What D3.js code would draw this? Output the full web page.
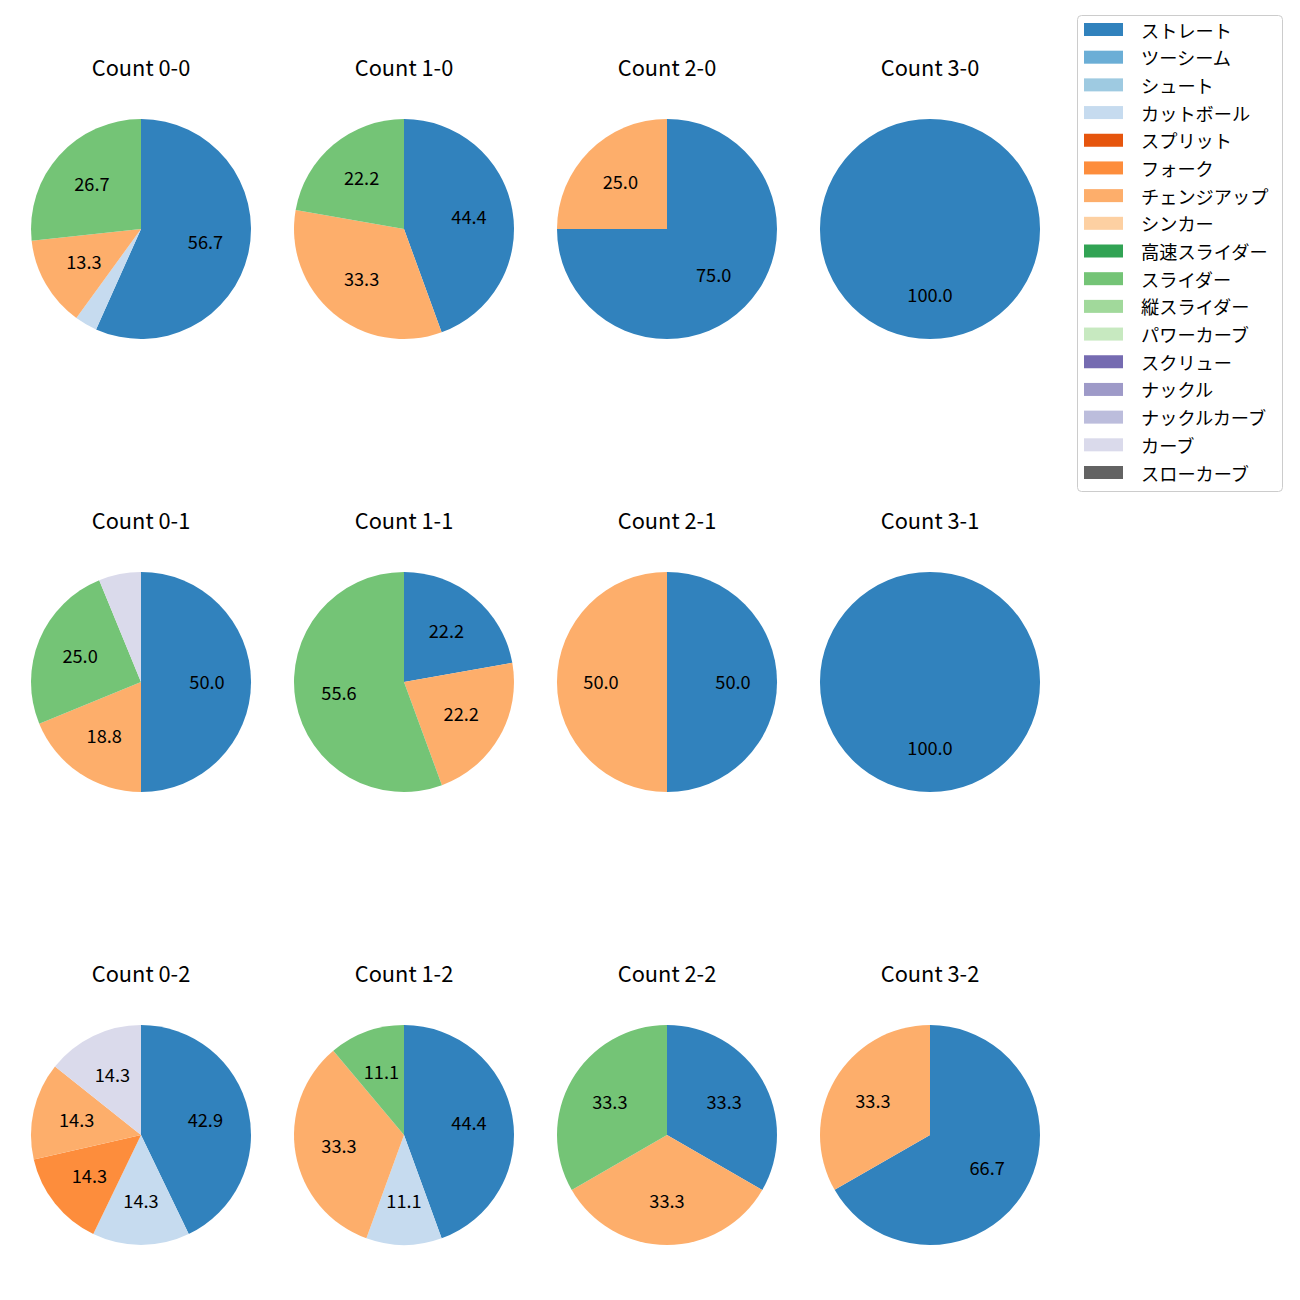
<!DOCTYPE html>
<html>
<head>
<meta charset="utf-8">
<script src="https://cdn.jsdelivr.net/npm/d3@7"></script>
<style>
  html, body { margin: 0; padding: 0; background: #fff; }
  svg { display: block; font-family: "Noto Sans CJK JP", "Noto Sans", sans-serif; }
</style>
</head>
<body>
<svg id="chart" width="1300" height="1300"></svg>
<script>
// Pitch types (legend order) and colours (tab20c)
const pitchTypes = ["ストレート","ツーシーム","シュート","カットボール","スプリット","フォーク","チェンジアップ","シンカー","高速スライダー","スライダー","縦スライダー","パワーカーブ","スクリュー","ナックル","ナックルカーブ","カーブ","スローカーブ"];
const pitchColors = ["#3182bd","#6baed6","#9ecae1","#c6dbef","#e6550d","#fd8d3c","#fdae6b","#fdd0a2","#31a354","#74c476","#a1d99b","#c7e9c0","#756bb1","#9e9ac8","#bcbddc","#dadaeb","#636363"];

// Count titles (row-major: rows = strikes, cols = balls)
const countTitles = ["Count 0-0","Count 1-0","Count 2-0","Count 3-0",
                     "Count 0-1","Count 1-1","Count 2-1","Count 3-1",
                     "Count 0-2","Count 1-2","Count 2-2","Count 3-2"];

// Percent shares per count, in pitchTypes order
//                 St   2S  Sh  Ct   Sp  Fk   Ch   Si  HS  Sl   VS  PC  Sc  Kn  KC  Cv   SC
const count00 = [56.7, 0, 0, 3.3, 0, 0, 13.3, 0, 0, 26.7, 0, 0, 0, 0, 0, 0, 0];
const count10 = [44.4, 0, 0, 0, 0, 0, 33.3, 0, 0, 22.2, 0, 0, 0, 0, 0, 0, 0];
const count20 = [75.0, 0, 0, 0, 0, 0, 25.0, 0, 0, 0, 0, 0, 0, 0, 0, 0, 0];
const count30 = [100.0, 0, 0, 0, 0, 0, 0, 0, 0, 0, 0, 0, 0, 0, 0, 0, 0];
const count01 = [50.0, 0, 0, 0, 0, 0, 18.8, 0, 0, 25.0, 0, 0, 0, 0, 0, 6.2, 0];
const count11 = [22.2, 0, 0, 0, 0, 0, 22.2, 0, 0, 55.6, 0, 0, 0, 0, 0, 0, 0];
const count21 = [50.0, 0, 0, 0, 0, 0, 50.0, 0, 0, 0, 0, 0, 0, 0, 0, 0, 0];
const count31 = [100.0, 0, 0, 0, 0, 0, 0, 0, 0, 0, 0, 0, 0, 0, 0, 0, 0];
const count02 = [42.9, 0, 0, 14.3, 0, 14.3, 14.3, 0, 0, 0, 0, 0, 0, 0, 0, 14.3, 0];
const count12 = [44.4, 0, 0, 11.1, 0, 0, 33.3, 0, 0, 11.1, 0, 0, 0, 0, 0, 0, 0];
const count22 = [33.3, 0, 0, 0, 0, 0, 33.3, 0, 0, 33.3, 0, 0, 0, 0, 0, 0, 0];
const count32 = [66.7, 0, 0, 0, 0, 0, 33.3, 0, 0, 0, 0, 0, 0, 0, 0, 0, 0];

const countValues = [count00,count10,count20,count30,count01,count11,count21,count31,count02,count12,count22,count32];

const svg = d3.select("#chart");
const color = d3.scaleOrdinal().domain(pitchTypes).range(pitchColors);
const xPos = d3.scaleLinear().domain([0, 3]).range([141, 930]);
const yPos = d3.scaleLinear().domain([0, 2]).range([229, 1135]);
const R = 110;

const pie = d3.pie().sort(null).value(d => d.v).startAngle(0).endAngle(2 * Math.PI);
const arc = d3.arc().innerRadius(0).outerRadius(R);
const labelArc = d3.arc().innerRadius(R * 0.6).outerRadius(R * 0.6);

countValues.forEach((vals, i) => {
  const col = i % 4, row = Math.floor(i / 4);
  const cx = xPos(col), cy = yPos(row);
  const data = pitchTypes.map((t, k) => ({ t, v: vals[k] })).filter(d => d.v > 0);
  const total = d3.sum(data, d => d.v);
  const g = svg.append("g").attr("transform", `translate(${cx},${cy})`);
  const arcs = pie(data);
  g.selectAll("path").data(arcs).join("path")
    .attr("d", arc)
    .attr("fill", d => color(d.data.t));
  g.selectAll("text.pct").data(arcs.filter(d => d.data.v / total * 100 >= 10)).join("text")
    .attr("class", "pct")
    .attr("transform", d => `translate(${labelArc.centroid(d)})`)
    .attr("text-anchor", "middle")
    .attr("dominant-baseline", "central")
    .attr("dy", "-1.5")
    .attr("font-size", "18.2px")
    .attr("fill", "#000")
    .text(d => (d.data.v / total * 100).toFixed(1));
  svg.append("text")
    .attr("x", cx)
    .attr("y", cy - 153.3)
    .attr("text-anchor", "middle")
    .attr("font-size", "21.8px")
    .attr("fill", "#000")
    .text(countTitles[i]);
});

// Legend
const legend = svg.append("g");
legend.append("rect")
  .attr("x", 1077.5).attr("y", 15.5)
  .attr("width", 205).attr("height", 476)
  .attr("rx", 4).attr("ry", 4)
  .attr("fill", "#fff").attr("fill-opacity", 0.8)
  .attr("stroke", "#cccccc").attr("stroke-width", 1);
const ly = d3.scaleLinear().domain([0, 16]).range([29.5, 472.5]);
const items = legend.selectAll("g.item").data(pitchTypes).join("g")
  .attr("class", "item")
  .attr("transform", (d, i) => `translate(0,${ly(i)})`);
items.append("rect")
  .attr("x", 1084).attr("y", -6.5)
  .attr("width", 39).attr("height", 13)
  .attr("fill", d => color(d));
items.append("text")
  .attr("x", 1141).attr("y", 0)
  .attr("dominant-baseline", "central")
  .attr("font-size", "18.2px")
  .attr("fill", "#000")
  .text(d => d);
</script>
</body>
</html>
